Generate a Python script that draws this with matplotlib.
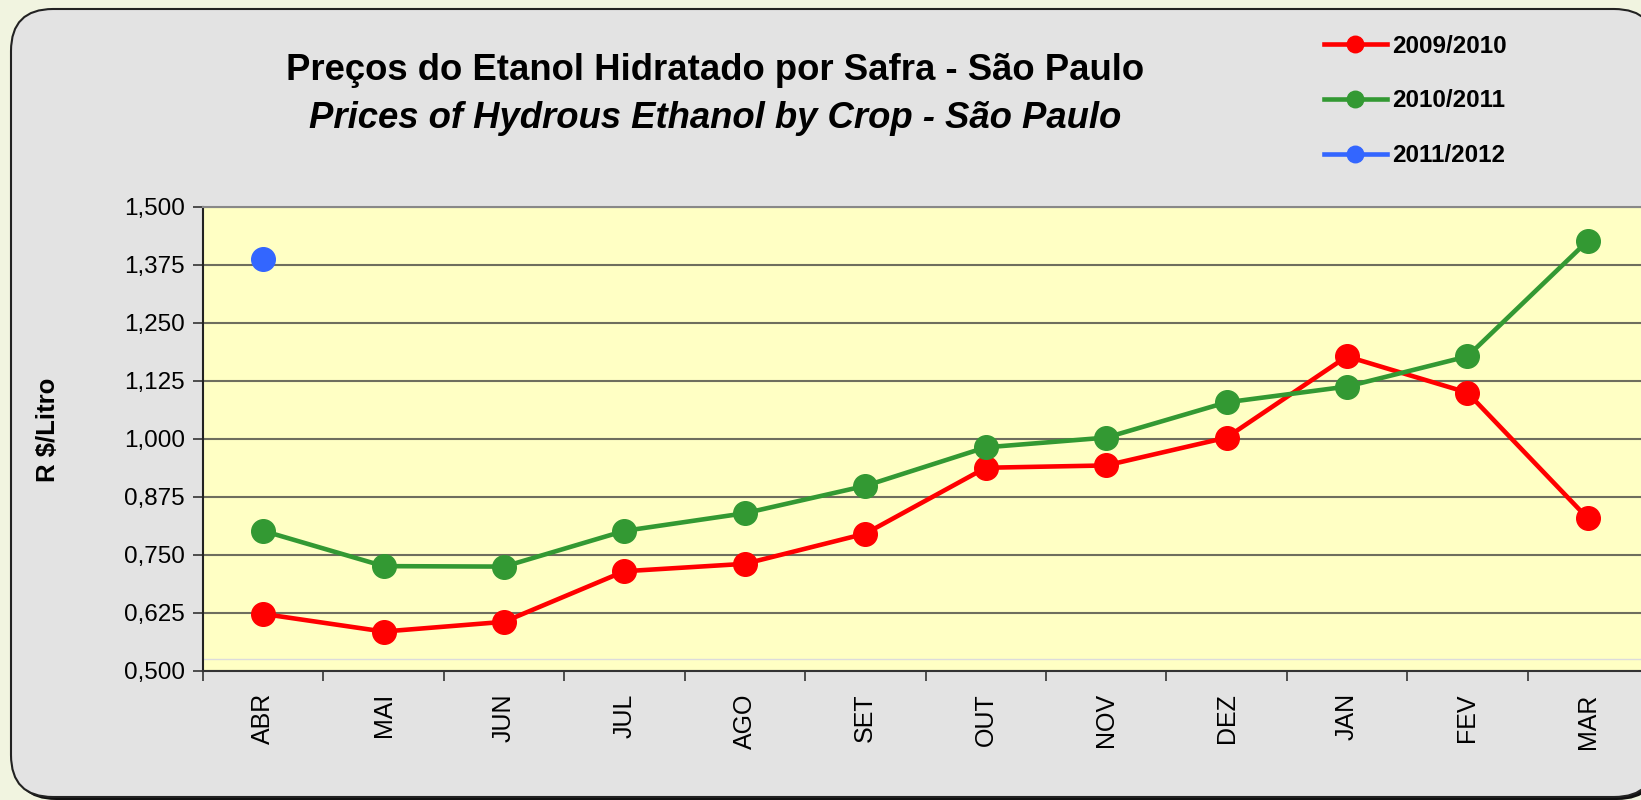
import numpy as np
import matplotlib
matplotlib.use("Agg")
import matplotlib.pyplot as plt
from matplotlib.patches import FancyBboxPatch
from matplotlib.ticker import FixedLocator, FuncFormatter

plt.rcParams['font.family'] = ['Liberation Sans', 'DejaVu Sans']

# dados
meses = ["ABR", "MAI", "JUN", "JUL", "AGO", "SET", "OUT", "NOV", "DEZ", "JAN", "FEV", "MAR"]
safra_2009 = [0.623, 0.585, 0.606, 0.715, 0.731, 0.796, 0.938, 0.943, 1.003, 1.178, 1.100, 0.829]
safra_2010 = [0.802, 0.726, 0.725, 0.802, 0.840, 0.899, 0.982, 1.003, 1.079, 1.113, 1.178, 1.427]
safra_2011 = [1.389]
y_ticks = [0.500, 0.625, 0.750, 0.875, 1.000, 1.125, 1.250, 1.375, 1.500]

W, H = 1641, 800
fig = plt.figure(figsize=(W / 100, H / 100), dpi=100)
fig.patch.set_facecolor('#F1F4E0')

# caixa cinza arredondada com sombra
sombra = FancyBboxPatch((0.14, 0.0), 16.45, 7.88, boxstyle="round,pad=0,rounding_size=0.42",
                        transform=fig.dpi_scale_trans, facecolor='#111111', edgecolor='none', zorder=0)
caixa = FancyBboxPatch((0.11, 0.03), 16.45, 7.88, boxstyle="round,pad=0,rounding_size=0.42",
                       transform=fig.dpi_scale_trans, facecolor='#E3E3E3', edgecolor='#222222',
                       linewidth=1.5, zorder=1)
fig.add_artist(sombra)
fig.add_artist(caixa)

esq, topo, base, dir_ = 203, 207, 671, 1648
ax = fig.add_axes([esq / W, 1 - base / H, (dir_ - esq) / W, (base - topo) / H])
ax.set_facecolor('#FFFFC4')
ax.set_zorder(2)

x = np.arange(len(meses))
ax.plot(x, safra_2009, color='#FF0000', lw=3.3, marker='o', ms=17, zorder=4, label='2009/2010')
ax.plot(x, safra_2010, color='#339933', lw=3.3, marker='o', ms=17, zorder=4, label='2010/2011')
ax.plot(x[:len(safra_2011)], safra_2011, color='#3366FF', lw=3.3, marker='o', ms=17, zorder=4,
        label='2011/2012')

ax.set_xlim(-0.5, len(meses) - 0.5)
ax.set_ylim(0.5, 1.5)
ax.yaxis.set_major_locator(FixedLocator(y_ticks))
ax.yaxis.set_major_formatter(FuncFormatter(lambda v, p: f"{v:.3f}".replace('.', ',')))
ax.grid(axis='y', color='#6E6E5E', lw=1.5, zorder=1)
ax.axhline(0.526, color='#DCDCDC', lw=1, zorder=1)

ax.set_xticks(x)
ax.set_xticklabels(meses, rotation=90, fontsize=18)
ax.set_xticks(np.arange(len(meses) + 1) - 0.5, minor=True)
ax.tick_params(axis='x', which='major', length=0, pad=16)
ax.tick_params(axis='x', which='minor', length=7, width=1.2, color='#333333', direction='out')
ax.tick_params(axis='y', length=7, width=1.2, color='#333333', labelsize=17.5, pad=6)

ax.spines['right'].set_visible(False)
ax.spines['top'].set_color('#888888')
ax.spines['top'].set_linewidth(1.5)
ax.spines['left'].set_color('#222222')
ax.spines['left'].set_linewidth(1.5)
ax.spines['bottom'].set_color('#333333')
ax.spines['bottom'].set_linewidth(1.5)

ax.set_ylabel('R $/Litro', fontsize=18.5, fontweight='bold')
ax.yaxis.set_label_coords(-(esq - 60) / (dir_ - esq), 0.52)

fig.text(715 / W, 1 - 71 / H, 'Preços do Etanol Hidratado por Safra - São Paulo',
         fontsize=26.3, fontweight='bold', ha='center', va='center', zorder=3)
fig.text(715 / W, 1 - 118 / H, 'Prices of Hydrous Ethanol by Crop - São Paulo',
         fontsize=26.3, fontweight='bold', style='italic', ha='center', va='center', zorder=3)

leg = fig.legend(loc='upper left', bbox_to_anchor=(1302 / W, 1 - 13 / H), frameon=False,
                 prop={'weight': 'bold', 'size': 17.5}, handlelength=2.6,
                 handletextpad=0.2, labelspacing=1.3, markerscale=0.7)
leg.set_zorder(3)

fig.savefig('out.png', dpi=100, facecolor=fig.get_facecolor())
